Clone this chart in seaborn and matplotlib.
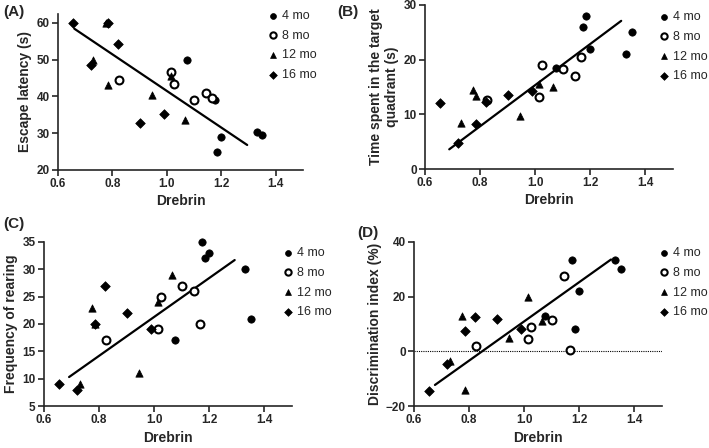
import matplotlib
matplotlib.use("Agg")
import matplotlib.pyplot as plt
import seaborn as sns
import pandas as pd

groups = ["4 mo", "8 mo", "12 mo", "16 mo"]

# drebrin level per animal, by age group
drebrin = {
    "4 mo": [1.075, 1.175, 1.185, 1.20, 1.33, 1.35],
    "8 mo": [0.825, 1.015, 1.025, 1.10, 1.145, 1.165],
    "12 mo": [0.73, 0.775, 0.785, 0.945, 1.015, 1.065],
    "16 mo": [0.655, 0.72, 0.785, 0.82, 0.90, 0.99],
}

escape_latency = {
    "4 mo": [50, 39, 25, 29, 30.2, 29.5],
    "8 mo": [44.5, 46.5, 43.5, 39, 41, 39.5],
    "12 mo": [50, 60, 43, 40.5, 45.5, 33.5],
    "16 mo": [60, 48.5, 60, 54.3, 32.8, 35.3],
}
target_time = {
    "4 mo": [18.5, 26, 28, 22, 21, 25],
    "8 mo": [12.7, 13.2, 19, 18.3, 17, 20.4],
    "12 mo": [8.5, 14.5, 13.3, 9.7, 15.5, 15],
    "16 mo": [12, 4.7, 8.2, 12.2, 13.6, 14.3],
}
rearing = {
    "4 mo": [17, 35, 32, 33, 30, 21],
    "8 mo": [17, 19, 25, 27, 26, 20],
    "12 mo": [9, 23, 20, 11, 24, 29],
    "16 mo": [9, 8, 20, 27, 22, 19],
}
discrimination = {
    "4 mo": [13, 33.5, 8, 22, 33.5, 30],
    "8 mo": [2, 4.5, 9, 11.5, 27.5, 0.5],
    "12 mo": [-3.5, 13, -14, 5, 20, 11],
    "16 mo": [-14.5, -4.5, 7.5, 12.7, 12, 8],
}

# fitted regression lines (end points)
fit_a = ([0.66, 1.295], [58.4, 26.8])
fit_b = ([0.688, 1.312], [3.6, 27.1])
fit_c = ([0.691, 1.292], [10.3, 31.7])
fit_d = ([0.676, 1.315], [-12.3, 33.6])

sns.set_style("ticks")
plt.rcParams["font.family"] = ["Liberation Sans", "DejaVu Sans"]

markers = {"4 mo": "o", "8 mo": "o", "12 mo": "^", "16 mo": "D"}
faces = {"4 mo": "black", "8 mo": "white", "12 mo": "black", "16 mo": "black"}
sizes = {"4 mo": 28, "8 mo": 32, "12 mo": 28, "16 mo": 24}

W, H = 709, 448
fig = plt.figure(figsize=(W / 100, H / 100), dpi=100)


def px_axes(left, top, right, bottom):
    return fig.add_axes([left / W, 1 - bottom / H, (right - left) / W, (bottom - top) / H])


def panel(ax, values, fit, ylim, yticks, ylabel, letter, letter_xy, legend_xy):
    rows = []
    for g in groups:
        for x, y in zip(drebrin[g], values[g]):
            rows.append({"Drebrin": x, "value": y, "group": g})
    df = pd.DataFrame(rows)
    for g in groups:
        sub = df[df["group"] == g]
        sns.scatterplot(data=sub, x="Drebrin", y="value", ax=ax, marker=markers[g],
                        color="black", facecolor=faces[g], edgecolor="black",
                        linewidth=1.5 if g == "8 mo" else 0.5, s=sizes[g],
                        label=g, zorder=3, clip_on=False)
    sns.lineplot(x=fit[0], y=fit[1], ax=ax, color="black", lw=1.6, zorder=2)
    ax.set_xlim(0.6, 1.5)
    ax.set_ylim(*ylim)
    ax.set_xticks([0.6, 0.8, 1.0, 1.2, 1.4])
    ax.set_yticks(yticks)
    ax.set_xticklabels(["0.6", "0.8", "1.0", "1.2", "1.4"])
    ax.set_yticklabels([str(t).replace("-", "\u2212") for t in yticks])
    for lab in ax.get_xticklabels() + ax.get_yticklabels():
        lab.set_fontweight("bold")
        lab.set_fontsize(8.5)
    ax.tick_params(direction="out", length=4, width=1.2, pad=2)
    for s in ["left", "bottom"]:
        ax.spines[s].set_linewidth(1.2)
    sns.despine(ax=ax)
    ax.set_xlabel("Drebrin", fontsize=10, fontweight="bold", labelpad=3)
    ax.set_ylabel(ylabel, fontsize=10, fontweight="bold", labelpad=3)
    handles, labels = ax.get_legend_handles_labels()
    ax.legend(handles[:4], labels[:4], loc="upper left",
              bbox_to_anchor=(legend_xy[0] / W, 1 - legend_xy[1] / H),
              bbox_transform=fig.transFigure, frameon=False, fontsize=9,
              handlelength=0.8, handletextpad=0.35, borderpad=0, borderaxespad=0,
              labelspacing=0.62, markerscale=0.8)
    fig.text(letter_xy[0] / W, 1 - letter_xy[1] / H, letter, fontsize=11,
             fontweight="bold", ha="left", va="center")


ax_a = px_axes(58, 14, 303, 170)
panel(ax_a, escape_latency, fit_a, (20, 62.4), [20, 30, 40, 50, 60],
      "Escape latency (s)", "(A)", (3, 12), (268, 10))

ax_b = px_axes(425, 5, 673, 169)
panel(ax_b, target_time, fit_b, (0, 30), [0, 10, 20, 30],
      "Time spent in the target\nquadrant (s)", "(B)", (337, 12), (659, 11))

ax_c = px_axes(44, 242, 292, 406)
panel(ax_c, rearing, fit_c, (5, 35), [5, 10, 15, 20, 25, 30, 35],
      "Frequency of rearing", "(C)", (3, 224), (283, 247))

ax_d = px_axes(414, 242, 662, 406)
ax_d.axhline(0, color="black", lw=0.8, ls=(0, (1, 1)), zorder=1)
panel(ax_d, discrimination, fit_d, (-20, 40), [-20, 0, 20, 40],
      "Discrimination index (%)", "(D)", (357, 233), (659, 247))

fig.savefig("out.png", dpi=100)
